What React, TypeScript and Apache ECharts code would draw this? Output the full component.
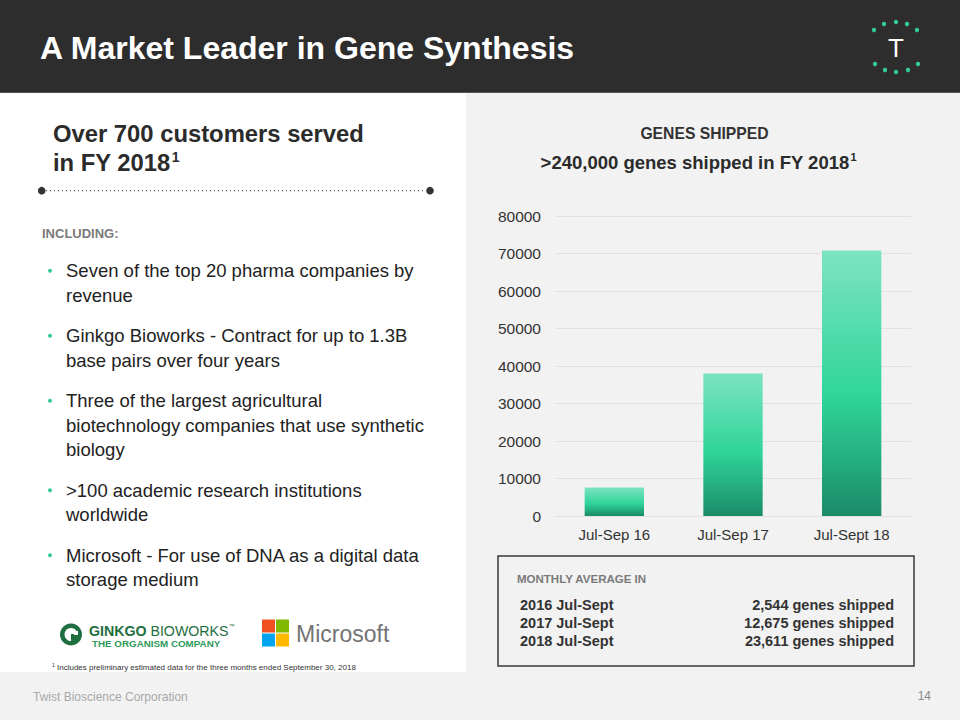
import React, { useEffect, useRef } from "react";
import * as echarts from "echarts";

const categories = ["Jul-Sep 16", "Jul-Sep 17", "Jul-Sept 18"];
const genesShipped = [7600, 38000, 70800];
const yAxisMin = 0;
const yAxisMax = 80000;
const yAxisStep = 10000;

const monthlyPeriods = ["2016 Jul-Sept", "2017 Jul-Sept", "2018 Jul-Sept"];
const monthlyAverages = [2544, 12675, 23611];

const bullets: string[][] = [
  ["Seven of the top 20 pharma companies by", "revenue"],
  ["Ginkgo Bioworks - Contract for up to 1.3B", "base pairs over four years"],
  ["Three of the largest agricultural", "biotechnology companies that use synthetic", "biology"],
  [">100 academic research institutions", "worldwide"],
  ["Microsoft - For use of DNA as a digital data", "storage medium"],
];

const FONT = "'Liberation Sans', Arial, Helvetica, sans-serif";
const GREEN = "#34c997";

function txt(x: number, y: number, text: string, font: string, fill: string, align = "left", extra: any = {}) {
  return {
    type: "text",
    x,
    y,
    z: 10,
    style: {
      text,
      font,
      fill,
      align,
      verticalAlign: "middle",
      textAlign: align,
      textVerticalAlign: "middle",
      ...extra,
    },
  };
}

function buildGraphics() {
  const g: any[] = [];
  // backgrounds
  g.push({ type: "rect", z: -10, shape: { x: 0, y: 0, width: 960, height: 720 }, style: { fill: "#ffffff" } });
  g.push({ type: "rect", z: -9, shape: { x: 466, y: 93, width: 494, height: 580 }, style: { fill: "#f2f2f2" } });
  g.push({ type: "rect", z: -9, shape: { x: 0, y: 672, width: 960, height: 48 }, style: { fill: "#f2f2f2" } });
  g.push({ type: "rect", z: -8, shape: { x: 0, y: 0, width: 960, height: 93 }, style: { fill: "#2d2d2d" } });
  g.push({ type: "rect", z: -7, shape: { x: 0, y: 92, width: 960, height: 1 }, style: { fill: "#555555" } });

  // header title
  g.push(txt(40, 48, "A Market Leader in Gene Synthesis", `bold 32px ${FONT}`, "#ffffff"));

  // header logo
  g.push(txt(896, 48, "T", `26px ${FONT}`, "#ffffff", "center"));
  const dots = [
    [874, 30], [884, 24], [896, 22], [907, 24], [917, 30],
    [875, 64], [885, 70], [896, 72], [908, 70], [918, 64],
  ];
  dots.forEach(([cx, cy]) => g.push({ type: "circle", z: 10, shape: { cx, cy, r: 2.2 }, style: { fill: GREEN } }));

  // left heading
  g.push(txt(53, 133.5, "Over 700 customers served", `bold 23.8px ${FONT}`, "#2b2b2b"));
  g.push({
    type: "text",
    x: 53,
    y: 162,
    z: 10,
    style: {
      text: "{a|in FY 2018}{s|1}",
      fill: "#2b2b2b",
      align: "left",
      verticalAlign: "middle",
      textAlign: "left",
      textVerticalAlign: "middle",
      rich: {
        a: { font: `bold 23.8px ${FONT}`, fill: "#2b2b2b", lineHeight: 26, verticalAlign: "middle" },
        s: { font: `bold 14px ${FONT}`, fill: "#2b2b2b", lineHeight: 26, verticalAlign: "top", padding: [1, 0, 0, 1] },
      },
    },
  });

  // dotted separator
  g.push({ type: "line", z: 10, shape: { x1: 46, y1: 190.7, x2: 426, y2: 190.7 }, style: { stroke: "#555555", lineWidth: 1.2, lineDash: [1, 3] } });
  g.push({ type: "circle", z: 10, shape: { cx: 41.7, cy: 190.7, r: 3.8 }, style: { fill: "#333333" } });
  g.push({ type: "circle", z: 10, shape: { cx: 430, cy: 190.7, r: 3.8 }, style: { fill: "#333333" } });

  g.push(txt(42, 233, "INCLUDING:", `bold 13px ${FONT}`, "#7a7a7a"));

  // bullets
  let y = 270.7;
  const lineH = 24.5;
  const gap = 16;
  bullets.forEach((lines) => {
    g.push({ type: "circle", z: 10, shape: { cx: 50, cy: y, r: 2 }, style: { fill: GREEN } });
    lines.forEach((line, i) => {
      g.push(txt(66, y + i * lineH, line, `18.5px ${FONT}`, "#222222"));
    });
    y += lines.length * lineH + gap;
  });

  // Ginkgo logo
  g.push({ type: "ring", z: 10, shape: { cx: 71, cy: 634.5, r: 11, r0: 6.5 }, style: { fill: "#1f6e3f" } });
  g.push({ type: "rect", z: 11, shape: { x: 71, y: 634, width: 8, height: 8 }, style: { fill: "#1f6e3f" } });
  g.push({ type: "rect", z: 12, shape: { x: 74, y: 631, width: 4, height: 4 }, style: { fill: "#ffffff" } });
  g.push({
    type: "text",
    x: 89,
    y: 631,
    z: 10,
    style: {
      text: "{b|GINKGO }{r|BIOWORKS}{t|™}",
      align: "left",
      verticalAlign: "middle",
      textAlign: "left",
      textVerticalAlign: "middle",
      rich: {
        b: { font: `bold 14.2px ${FONT}`, fill: "#1f6e3f", lineHeight: 16 },
        r: { font: `14.2px ${FONT}`, fill: "#1f6e3f", lineHeight: 16 },
        t: { font: `6px ${FONT}`, fill: "#1f6e3f", lineHeight: 16, verticalAlign: "top" },
      },
    },
  });
  g.push(txt(92, 643.5, "THE ORGANISM COMPANY", `bold 9.8px ${FONT}`, "#2e9a5a"));

  // Microsoft logo
  const ms = [
    [262, 619.5, "#f25022"],
    [276, 619.5, "#7fba00"],
    [262, 633.5, "#00a4ef"],
    [276, 633.5, "#ffb900"],
  ];
  ms.forEach(([x, yy, c]) =>
    g.push({ type: "rect", z: 10, shape: { x, y: yy, width: 13, height: 13 }, style: { fill: c } })
  );
  g.push(txt(296, 633.5, "Microsoft", `23px ${FONT}`, "#737373"));

  // footnote
  g.push({
    type: "text",
    x: 52,
    y: 667.5,
    z: 10,
    style: {
      text: "{s|1}{a| Includes preliminary estimated data for the three months ended September 30, 2018}",
      align: "left",
      verticalAlign: "middle",
      textAlign: "left",
      textVerticalAlign: "middle",
      rich: {
        s: { font: `5px ${FONT}`, fill: "#333333", lineHeight: 10, verticalAlign: "top" },
        a: { font: `8px ${FONT}`, fill: "#333333", lineHeight: 10 },
      },
    },
  });

  // footer
  g.push(txt(33, 696.5, "Twist Bioscience Corporation", `12px ${FONT}`, "#a8a8a8"));
  g.push(txt(931, 696, "14", `12px ${FONT}`, "#888888", "right"));

  // right headings
  g.push(txt(704.5, 133, "GENES SHIPPED", `bold 15.7px ${FONT}`, "#333333", "center"));
  g.push({
    type: "text",
    x: 698.5,
    y: 162,
    z: 10,
    style: {
      text: "{a|>240,000 genes shipped in FY 2018}{s|1}",
      align: "center",
      verticalAlign: "middle",
      textAlign: "center",
      textVerticalAlign: "middle",
      rich: {
        a: { font: `bold 18.5px ${FONT}`, fill: "#2b2b2b", lineHeight: 21 },
        s: { font: `bold 11px ${FONT}`, fill: "#2b2b2b", lineHeight: 21, verticalAlign: "top", padding: [0, 0, 0, 1] },
      },
    },
  });

  // monthly average box
  g.push({ type: "rect", z: 10, shape: { x: 498, y: 556, width: 416, height: 110 }, style: { fill: "none", stroke: "#3a3a3a", lineWidth: 1.5 } });
  g.push(txt(517, 579, "MONTHLY AVERAGE IN", `bold 11.5px ${FONT}`, "#7a7a7a"));
  const rowY = [605, 623, 641];
  monthlyPeriods.forEach((p, i) => {
    g.push(txt(520, rowY[i], p, `bold 14.5px ${FONT}`, "#333333"));
    g.push(txt(894, rowY[i], `${monthlyAverages[i].toLocaleString("en-US")} genes shipped`, `bold 14.5px ${FONT}`, "#333333", "right"));
  });

  return g;
}

export default function App() {
  const ref = useRef<HTMLDivElement>(null);

  useEffect(() => {
    if (!ref.current) return;
    const chart = echarts.init(ref.current, undefined, { renderer: "svg", width: 960, height: 720 });
    chart.setOption({
      animation: false,
      backgroundColor: "#ffffff",
      graphic: { elements: buildGraphics() },
      grid: { left: 555, right: 49, top: 216, bottom: 204, containLabel: false },
      xAxis: {
        type: "category",
        data: categories,
        axisLine: { show: true, lineStyle: { color: "#e2e2e2", width: 1 } },
        axisTick: { show: false },
        axisLabel: { color: "#333333", fontSize: 15, fontFamily: FONT, margin: 11 },
      },
      yAxis: {
        type: "value",
        min: yAxisMin,
        max: yAxisMax,
        interval: yAxisStep,
        axisLine: { show: false },
        axisTick: { show: false },
        axisLabel: {
          color: "#333333",
          fontSize: 15.5,
          fontFamily: FONT,
          margin: 14,
          formatter: (v: number) => String(v),
        },
        splitLine: { lineStyle: { color: "#e2e2e2", width: 1 } },
      },
      series: [
        {
          type: "bar",
          data: genesShipped,
          barWidth: "50%",
          itemStyle: {
            color: new echarts.graphic.LinearGradient(0, 0, 0, 1, [
              { offset: 0, color: "#7de3c2" },
              { offset: 0.55, color: "#2fd59a" },
              { offset: 1, color: "#1b8b68" },
            ]),
          },
        },
      ],
    });
    return () => chart.dispose();
  }, []);

  return (
    <div
      ref={ref}
      style={{ position: "fixed", left: 0, top: 0, width: 960, height: 720 }}
    />
  );
}
